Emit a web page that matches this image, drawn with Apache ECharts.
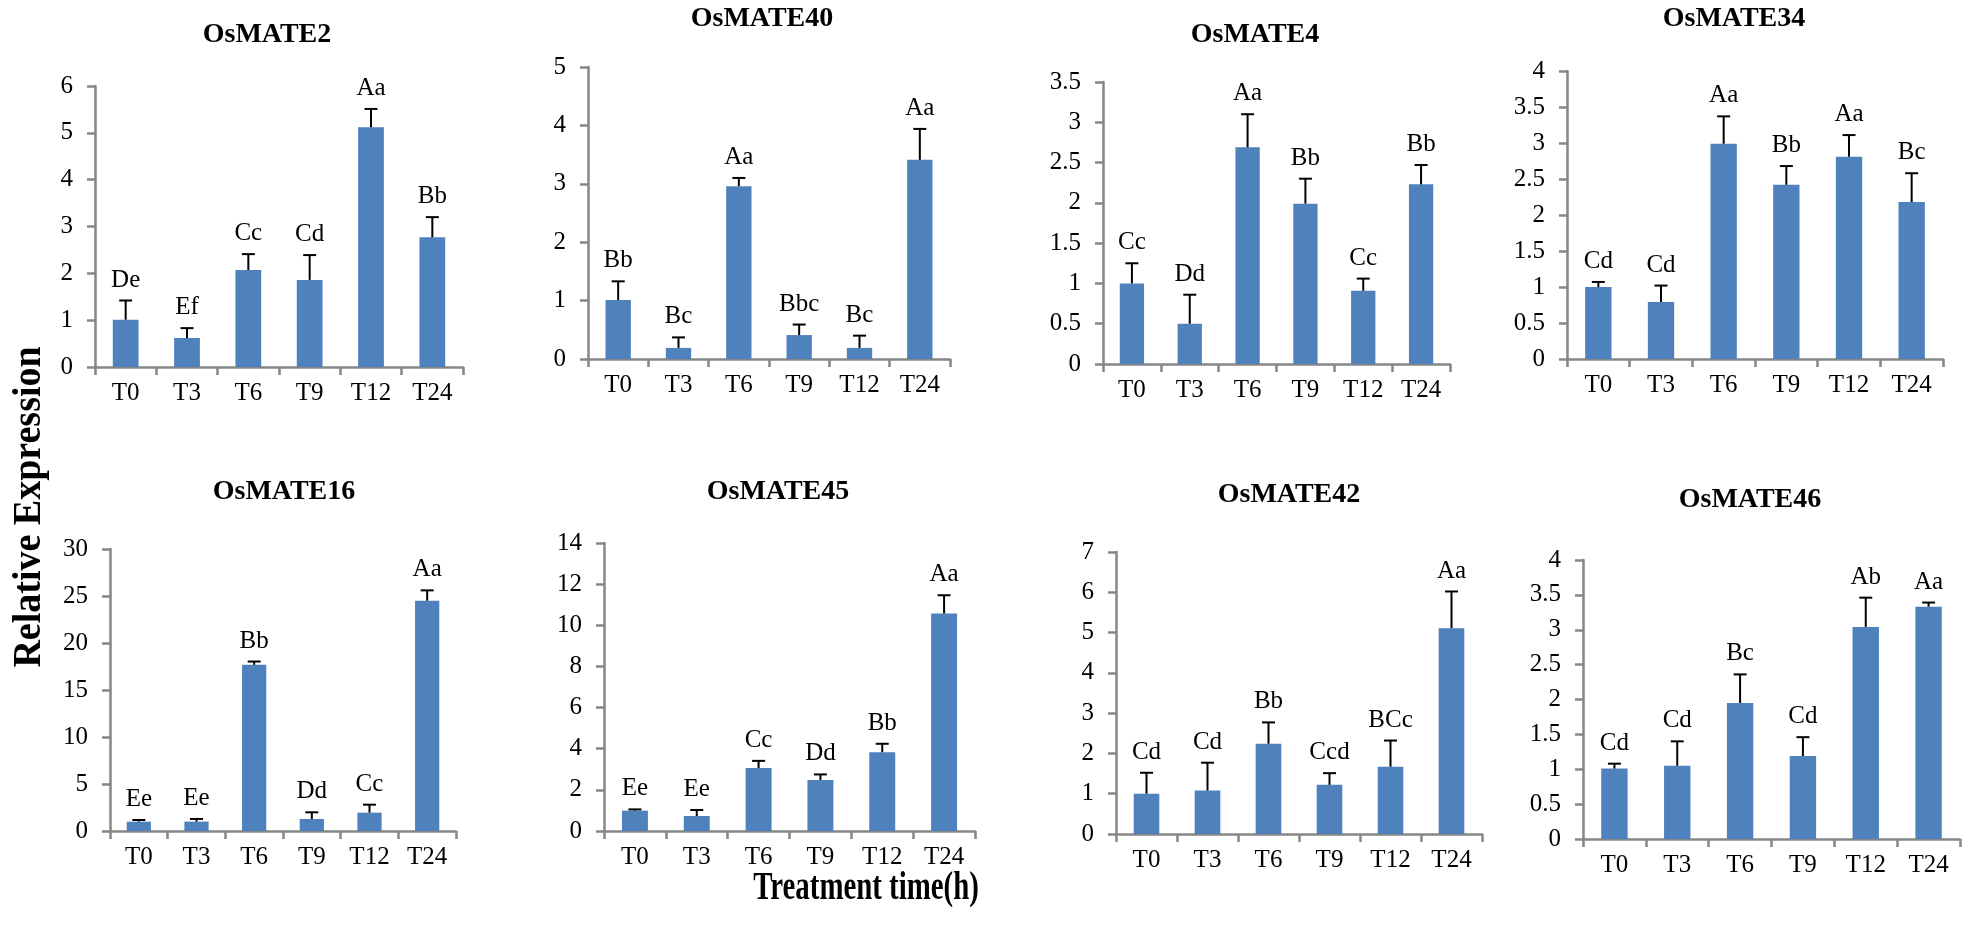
<!DOCTYPE html>
<html>
<head>
<meta charset="utf-8">
<script src="https://cdn.jsdelivr.net/npm/echarts@6/dist/echarts.min.js"></script>
<style>
html,body{margin:0;padding:0;background:#fff;}
#chart{width:1968px;height:928px;}
</style>
</head>
<body>
<div id="chart"></div>
<script>
// ---- data ----
const categories = ['T0', 'T3', 'T6', 'T9', 'T12', 'T24'];
const genes = ['OsMATE2', 'OsMATE40', 'OsMATE4', 'OsMATE34', 'OsMATE16', 'OsMATE45', 'OsMATE42', 'OsMATE46'];

const mate2Mean  = [1.01, 0.62, 2.07, 1.86, 5.12, 2.77];
const mate2Sd    = [0.41, 0.21, 0.34, 0.53, 0.39, 0.43];
const mate2Sig   = ['De', 'Ef', 'Cc', 'Cd', 'Aa', 'Bb'];

const mate40Mean = [1.01, 0.19, 2.96, 0.41, 0.19, 3.41];
const mate40Sd   = [0.32, 0.18, 0.14, 0.18, 0.21, 0.53];
const mate40Sig  = ['Bb', 'Bc', 'Aa', 'Bbc', 'Bc', 'Aa'];

const mate4Mean  = [1.00, 0.50, 2.69, 1.99, 0.91, 2.23];
const mate4Sd    = [0.25, 0.36, 0.41, 0.31, 0.15, 0.24];
const mate4Sig   = ['Cc', 'Dd', 'Aa', 'Bb', 'Cc', 'Bb'];

const mate34Mean = [1.00, 0.79, 2.99, 2.42, 2.81, 2.18];
const mate34Sd   = [0.07, 0.23, 0.38, 0.26, 0.30, 0.40];
const mate34Sig  = ['Cd', 'Cd', 'Aa', 'Bb', 'Aa', 'Bc'];

const mate16Mean = [0.99, 1.00, 17.68, 1.28, 1.95, 24.5];
const mate16Sd   = [0.18, 0.28, 0.35, 0.71, 0.85, 1.10];
const mate16Sig  = ['Ee', 'Ee', 'Bb', 'Dd', 'Cc', 'Aa'];

const mate45Mean = [0.99, 0.73, 3.06, 2.48, 3.83, 10.57];
const mate45Sd   = [0.06, 0.29, 0.35, 0.27, 0.41, 0.89];
const mate45Sig  = ['Ee', 'Ee', 'Cc', 'Dd', 'Bb', 'Aa'];

const mate42Mean = [1.00, 1.08, 2.24, 1.22, 1.67, 5.11];
const mate42Sd   = [0.52, 0.69, 0.53, 0.29, 0.65, 0.91];
const mate42Sig  = ['Cd', 'Cd', 'Bb', 'Ccd', 'BCc', 'Aa'];

const mate46Mean = [1.01, 1.05, 1.95, 1.19, 3.04, 3.33];
const mate46Sd   = [0.07, 0.35, 0.41, 0.27, 0.42, 0.06];
const mate46Sig  = ['Cd', 'Cd', 'Bc', 'Cd', 'Ab', 'Aa'];

const yMax      = [6, 5, 3.5, 4, 30, 14, 7, 4];
const yInterval = [1, 1, 0.5, 0.5, 5, 2, 1, 0.5];

const yTitle = 'Relative Expression';
const xTitle = 'Treatment time(h)';

// ---- layout (pixels) ----
const panels = [
  {left: 95,   top: 86,  right: 463,  bottom: 367, tx: 267,  ty: 35},
  {left: 588,  top: 67,  right: 950,  bottom: 359, tx: 762,  ty: 19},
  {left: 1103, top: 82,  right: 1450, bottom: 364, tx: 1255, ty: 35},
  {left: 1567, top: 71,  right: 1943, bottom: 359, tx: 1734, ty: 19},
  {left: 110,  top: 549, right: 456,  bottom: 831, tx: 284,  ty: 492},
  {left: 604,  top: 543, right: 975,  bottom: 831, tx: 778,  ty: 492},
  {left: 1116, top: 552, right: 1482, bottom: 834, tx: 1289, ty: 495},
  {left: 1583, top: 560, right: 1960, bottom: 839, tx: 1750, ty: 500}
];

const means = [mate2Mean, mate40Mean, mate4Mean, mate34Mean, mate16Mean, mate45Mean, mate42Mean, mate46Mean];
const sds   = [mate2Sd, mate40Sd, mate4Sd, mate34Sd, mate16Sd, mate45Sd, mate42Sd, mate46Sd];
const sigs  = [mate2Sig, mate40Sig, mate4Sig, mate34Sig, mate16Sig, mate45Sig, mate42Sig, mate46Sig];

const FONT = '"Liberation Serif", "Times New Roman", serif';
const AXIS_COLOR = '#868686';
const BAR_COLOR = '#4F81BD';

const grids = [], xAxes = [], yAxes = [], series = [], graphics = [];

panels.forEach((p, k) => {
  grids.push({left: p.left, top: p.top, width: p.right - p.left, height: p.bottom - p.top, containLabel: false});
  xAxes.push({
    type: 'category', gridIndex: k, data: categories,
    axisLine: {lineStyle: {color: AXIS_COLOR, width: 2.5}},
    axisTick: {show: true, length: 8, lineStyle: {color: AXIS_COLOR, width: 2.5}},
    axisLabel: {color: '#000', fontFamily: FONT, fontSize: 25, margin: 14},
    splitLine: {show: false}
  });
  yAxes.push({
    type: 'value', gridIndex: k, min: 0, max: yMax[k], interval: yInterval[k],
    axisLine: {show: true, lineStyle: {color: AXIS_COLOR, width: 2.5}},
    axisTick: {show: true, length: 8, lineStyle: {color: AXIS_COLOR, width: 2.5}},
    axisLabel: {color: '#000', fontFamily: FONT, fontSize: 25, margin: 22},
    splitLine: {show: false}
  });
  series.push({
    type: 'bar', xAxisIndex: k, yAxisIndex: k, data: means[k],
    barWidth: '42%', itemStyle: {color: BAR_COLOR}, silent: true, z: 2
  });
  const letters = sigs[k];
  series.push({
    type: 'custom', xAxisIndex: k, yAxisIndex: k, z: 3, silent: true,
    data: means[k].map((m, i) => [i, m, m + sds[k][i]]),
    renderItem: function (params, api) {
      const i = api.value(0);
      const p0 = api.coord([i, api.value(1)]);
      const p1 = api.coord([i, api.value(2)]);
      const half = 6.5;
      return {
        type: 'group',
        children: [
          {type: 'line', shape: {x1: p0[0], y1: p0[1], x2: p1[0], y2: p1[1]}, style: {stroke: '#000', lineWidth: 2}},
          {type: 'line', shape: {x1: p1[0] - half, y1: p1[1], x2: p1[0] + half, y2: p1[1]}, style: {stroke: '#000', lineWidth: 2}},
          {type: 'text', x: p1[0], y: p1[1] - 8,
           style: {text: letters[params.dataIndex], fill: '#000', font: '25px ' + FONT, textAlign: 'center', textVerticalAlign: 'bottom', verticalAlign: 'bottom', align: 'center'}}
        ]
      };
    }
  });
  graphics.push({
    type: 'text', x: p.tx, y: p.ty,
    style: {text: genes[k], fill: '#000', font: 'bold 28px ' + FONT, textAlign: 'center', textVerticalAlign: 'middle', align: 'center', verticalAlign: 'middle'}
  });
});

graphics.push({
  type: 'text', x: 30, y: 507, rotation: Math.PI / 2, scaleX: 0.95,
  style: {text: yTitle, fill: '#000', font: 'bold 40px ' + FONT, textAlign: 'center', textVerticalAlign: 'middle', align: 'center', verticalAlign: 'middle'}
});
graphics.push({
  type: 'text', x: 866, y: 889, scaleX: 0.74,
  style: {text: xTitle, fill: '#000', font: 'bold 39px ' + FONT, textAlign: 'center', textVerticalAlign: 'middle', align: 'center', verticalAlign: 'middle'}
});

const chart = echarts.init(document.getElementById('chart'), null, {renderer: 'canvas'});
chart.setOption({
  backgroundColor: '#fff',
  animation: false,
  grid: grids,
  xAxis: xAxes,
  yAxis: yAxes,
  series: series,
  graphic: graphics
});
</script>
</body>
</html>
